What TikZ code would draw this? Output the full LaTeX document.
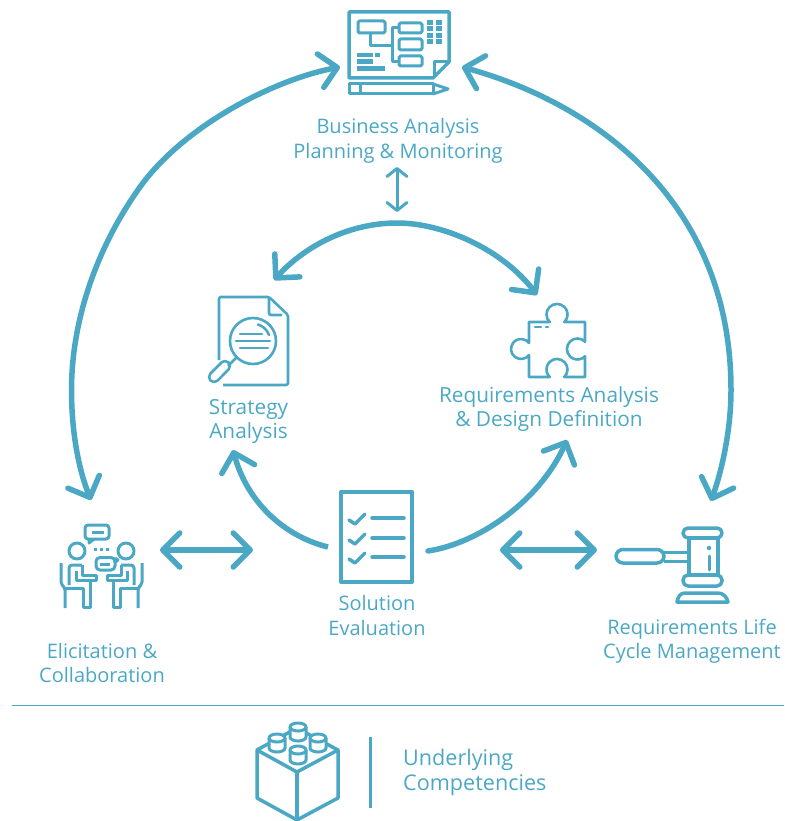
\documentclass[tikz,border=0pt]{standalone}
\usepackage{fontspec}
\setmainfont{Open Sans}
\usetikzlibrary{arrows.meta}
\definecolor{ba}{HTML}{4BA8C4}
\tikzset{
 lab/.style={text=ba,align=center,font=\fontsize{20}{24.4}\selectfont,inner sep=0pt},
 labb/.style={text=ba,align=center,font=\fontsize{20.8}{24.6}\selectfont,inner sep=0pt},
 flow/.style={draw=ba,line width=5.5pt,{Straight Barb[length=17pt,width=34pt,round]}-{Straight Barb[length=17pt,width=34pt,round]}},
 oneway/.style={draw=ba,line width=5.5pt,-{Straight Barb[length=17pt,width=34pt,round]}},
 thin arrow/.style={draw=ba,line width=3pt,{Straight Barb[length=8pt,width=20pt,round]}-{Straight Barb[length=8pt,width=20pt,round]}},
 ic/.style={draw=ba,line width=3pt,line join=round},
 ict/.style={draw=ba,line width=2.6pt,line join=round},
}
\begin{document}
\begin{tikzpicture}[x=1pt,y=1pt,yscale=-1]
\useasboundingbox (0,0) rectangle (784,821);
% text
\node[lab] (tplan) at (398,141) {Business Analysis\\Planning \& Monitoring};
\node[labb] (tstrat) at (248.5,421.5) {Strategy\\Analysis};
\node[labb] (treq) at (549,409) {Requirements Analysis\\\& Design Definition};
\node[lab] (tsol) at (377,615.5) {Solution\\Evaluation};
\node[lab] (telic) at (102,663) {Elicitation \&\\Collaboration};
\node[lab] (tlife) at (692,641.5) {Requirements Life\\Cycle Management};
\node[text=ba,align=left,font=\fontsize{21.6}{25}\selectfont,inner sep=0pt,anchor=west] (tcomp) at (403,772) {Underlying\\Competencies};
% connector ends
\coordinate (pL) at (340,67);
\coordinate (pR) at (462,67);
\coordinate (eT) at (91,500);
\coordinate (gT) at (711,501);
\coordinate (sT) at (274,280);
\coordinate (rT) at (537,295);
\coordinate (sB) at (233,450);
\coordinate (rB) at (567,440);
\coordinate (vL) at (328,547);
\coordinate (vR) at (428,551);
\coordinate (eR) at (160,550);
\coordinate (vA) at (253,550);
\coordinate (vB) at (500,550);
\coordinate (gL) at (597,550);
\coordinate (tA) at (397,167);
\coordinate (tB) at (397,212);
% connectors
\draw[flow] (pL) .. controls (272,80) and (183,127) .. (140,187) .. controls (97,247) and (71.5,320) .. (71.5,390) .. controls (71.5,430) and (78,468) .. (eT);
\draw[flow] (pR) .. controls (600,105) and (731,205) .. (731,390) .. controls (731,430) and (722,470) .. (gT);
\draw[flow] (sT) .. controls (306,245) and (350,223) .. (397,223) .. controls (444,223) and (503,250) .. (rT);
\draw[oneway] (vL) .. controls (287,537) and (248,505) .. (sB);
\draw[oneway,line cap=round] (vR) .. controls (480,543) and (540,500) .. (rB);
\draw[flow] (eR) -- (vA);
\draw[flow] (vB) -- (gL);
\draw[thin arrow] (tA) -- (tB);
% plan icon
\draw[ic,line width=3.5pt] (433,78) -- (349,78) -- (349,12) -- (449,12) -- (449,62) -- cycle;
\draw[ic] (449,62) -- (434,62) -- (434,77);
\draw[ic,rounded corners=1.5pt] (358,21) rectangle (385,33);
\draw[ic] (370,33) -- (370,46) -- (392,46);
\draw[ic] (399,28) -- (392,28) -- (392,62) -- (399,62);
\draw[ic,rounded corners=1.5pt] (399,23) rectangle (422,33);
\draw[ic,rounded corners=1.5pt] (399,39) rectangle (422,50);
\draw[ic,rounded corners=1.5pt] (399,56) rectangle (422,66);
\foreach \gy in {20,26.5,33,39}{\foreach \gx in {427,436}{\fill[ba] (\gx,\gy) rectangle ++(6,5);}}
\fill[ba] (357,53) rectangle (373,57.5);
\fill[ba] (375,53) rectangle (380,57.5);
\fill[ba] (357,59.5) rectangle (373,64);
\fill[ba] (357,66) rectangle (385,71);
\draw[ic] (349,84) rectangle (433,94);
\draw[ic] (360,84) -- (360,94);
\draw[ic] (433,84) -- (448,89) -- (433,94);
% strategy icon
\draw[ict,rounded corners=1.5pt] (219,360) -- (219,297) -- (269,297) -- (288,315) -- (288,385) -- (223,385);
\draw[ict,rounded corners=2pt] (269,297) -- (269,315) -- (282,315);
\draw[ict] (253,341) circle[radius=23];
\draw[ict,line cap=round] (240,334) -- (262,334) (236,341) -- (270,341) (240,348) -- (268,348);
\draw[ict,line cap=round] (258,324.5) arc[start angle=-73,end angle=-20,radius=17];
\draw[ict] (236,358) -- (228,366);
\draw[ict] (221.5,362.5) -- (210.5,373.5) arc[start angle=225,end angle=45,radius=5] -- (228.5,369.5) arc[start angle=45,end angle=-135,radius=5] -- cycle;
% puzzle icon
\draw[ict] (529,322) -- (549.7,322) arc[start angle=134,end angle=406,radius=10.5] -- (585,322) -- (585,341.7)
 arc[start angle=-44,end angle=-316,radius=10.5] -- (585,377) -- (564.3,377)
 arc[start angle=46,end angle=-226,radius=10.5] -- (529,377) -- (529,355)
 arc[start angle=37,end angle=323,radius=10] -- cycle;
\draw[ict,line cap=round] (535,327) -- (541,327) (546,327) -- (548,327);
% elicitation icon
\draw[ic,rounded corners=3pt] (85,525) rectangle (109,539);
\draw[ic] (89,539) -- (89,543) -- (94,539);
\draw[ic] (92,532) -- (104,532);
\draw[ic] (115,558) -- (118,560) -- (114,563);
\draw[ic,rounded corners=4pt] (96,557.5) rectangle (115,570);
\draw[ic] (100,564) -- (110,564);
\foreach \dx in {95,101,107}{\fill[ba] (\dx-1.5,547.5) rectangle ++(3,3);}
\foreach \sc/\sh in {1/0,-1/-203}{
\begin{scope}[xscale=\sc,xshift=\sh]
\draw[ic] (77,551) circle[radius=8];
\draw[ic,rounded corners=2pt] (61,563) -- (61,584) -- (65,588) -- (65,608);
\draw[ic,rounded corners=3pt] (69,585) -- (69,565) -- (82,565);
\draw[ic] (82,565) -- (82,575) -- (96,575) -- (96,580) -- (76,580) -- (76,571);
\draw[ic] (65,588) -- (83,588) -- (83,607) -- (90,607) -- (90,580);
\end{scope}}
% solution icon
\draw[ic,line width=4pt] (341,492) rectangle (412,582);
\draw[ic,line width=3.5pt,line cap=round] (372,518) -- (404,518) (372,538) -- (404,538) (372,557) -- (404,557);
\foreach \cy in {0,20,39}{\draw[ic,line width=3.5pt,line cap=round] (349,520+\cy) -- (355,524+\cy) -- (365,514+\cy);}
% gavel icon
\draw[ic,line width=3.5pt,rounded corners=7pt] (616,549.5) rectangle (664,563);
\draw[ic] (664,552) -- (688,552) (664,561) -- (688,561);
\draw[ic,line width=3.5pt] (689,538) rectangle (718,575);
\draw[ic,line width=3.5pt,rounded corners=5pt] (683,528) rectangle (722,538);
\draw[ic,line width=3.5pt,rounded corners=5pt] (683,575) rectangle (722,586);
\fill[ba] (709,548) circle[radius=2.2];
\draw[ic,line cap=round] (709,556) -- (709,570);
\draw[ic,line width=3.5pt] (677,602) .. controls (678,597) and (680,593) .. (685,593) -- (718,593) .. controls (723,593) and (727,597) .. (728,602) -- cycle;
% separator
\draw[ba,line width=1.8pt] (12,705.5) -- (784,705.5);
\draw[ba,line width=3pt] (370.5,737) -- (370.5,808);
% block icon
\draw[ic,line width=3.5pt] (297,772) -- (257,750) -- (257,798) -- (297,820) -- (338,798) -- (338,750) -- cycle;
\draw[ic,line width=3.5pt] (297,772) -- (297,820);
\draw[ic,line width=3.5pt] (257,750) -- (297,728) -- (338,750);
\foreach \bx/\by in {298/727,277/738,318/738,298/750}{
\draw[ic,fill=white] (\bx-8,\by) -- (\bx-8,\by+10) arc[start angle=180,end angle=0,x radius=8,y radius=4] -- (\bx+8,\by);
\draw[ic,fill=white] (\bx,\by) ellipse[x radius=8,y radius=4];
}
\end{tikzpicture}
\end{document}
